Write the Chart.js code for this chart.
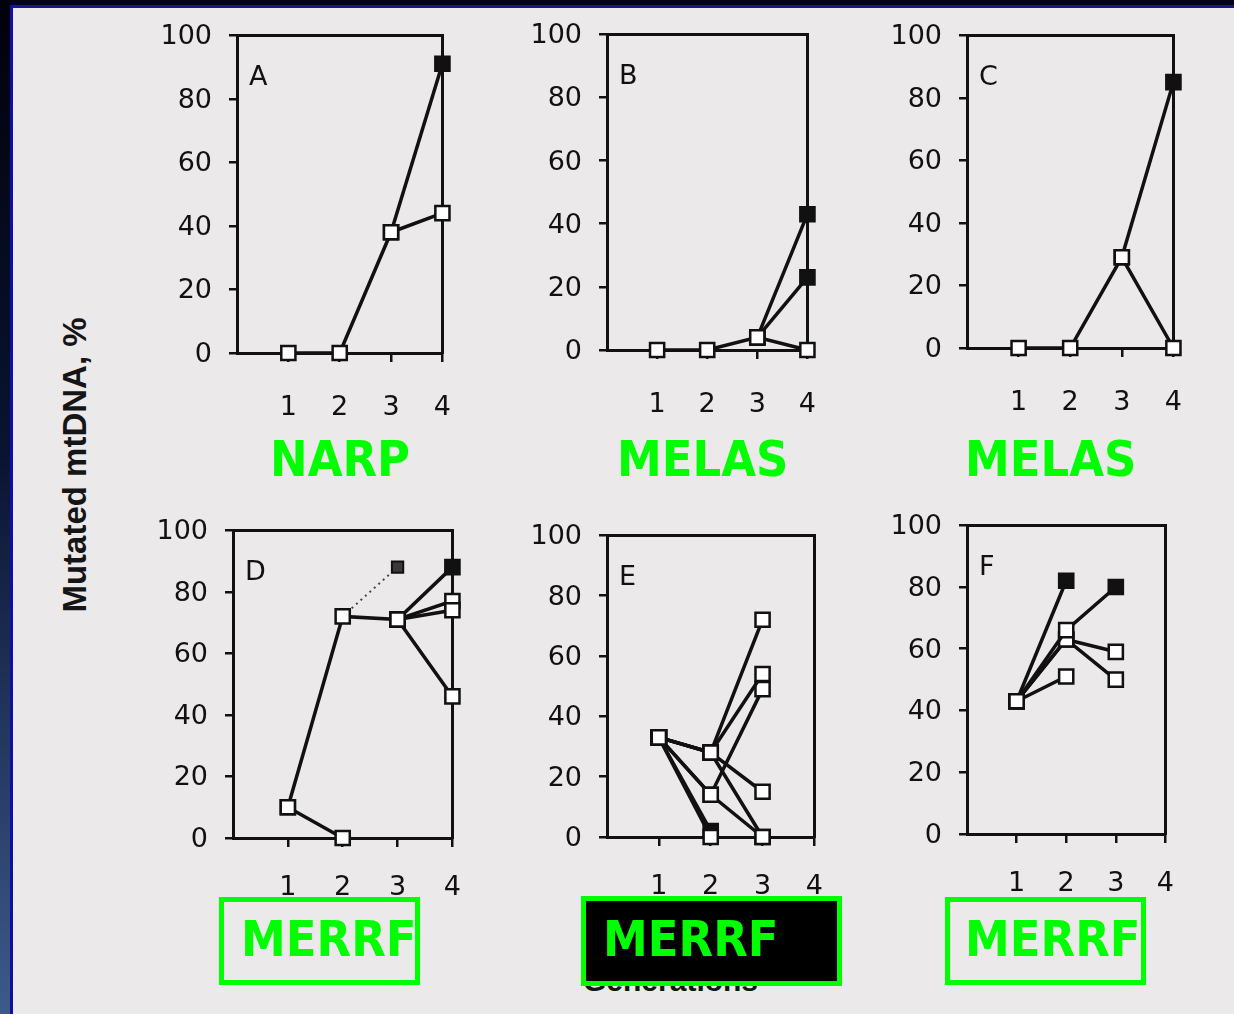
<!DOCTYPE html>
<html>
<head>
<meta charset="utf-8">
<script src="https://cdn.jsdelivr.net/npm/chart.js@4.4.1/dist/chart.umd.min.js"></script>
<style>
  html, body { margin: 0; padding: 0; }
  body { width: 1234px; height: 1014px; position: relative; overflow: hidden; background: #ece9ea; }
  .edge-top { position: absolute; left: 0; top: 0; width: 1234px; height: 5px; background: #02021c; }
  .edge-top-line { position: absolute; left: 0; top: 5px; width: 1234px; height: 3px; background: #1414a0; }
  .edge-left { position: absolute; left: 0; top: 0; width: 10px; height: 1014px; background: linear-gradient(#01010a, #0a1430 45%, #3d5a8c); }
  .edge-left-line { position: absolute; left: 10px; top: 5px; width: 3px; height: 1009px; background: #1010a0; }
  canvas { position: absolute; }
  .tag { position: absolute; font-family: "DejaVu Sans Condensed", "DejaVu Sans", sans-serif; font-stretch: condensed;
         font-weight: bold; font-size: 50px; line-height: 50px; color: #00ff00; white-space: nowrap; z-index: 3; }
  .box { position: absolute; border: 5px solid #00ff00; box-sizing: border-box; z-index: 2; }
  .ylabel { position: absolute; left: 75px; top: 465px; transform: translate(-50%, -50%) rotate(-90deg);
            font-family: "Liberation Sans", Arial, sans-serif; font-weight: bold; font-size: 33px; color: #151515; white-space: nowrap; }
  .gen { position: absolute; left: 583px; top: 966px; font-family: "Liberation Sans", Arial, sans-serif; font-weight: bold;
         font-size: 30px; line-height: 30px; color: #151515; z-index: 1; }
</style>
</head>
<body>
<div class="edge-top"></div>
<div class="edge-top-line"></div>
<div class="edge-left"></div>
<div class="edge-left-line"></div>
<div class="ylabel">Mutated mtDNA, %</div>
<div class="gen">Generations</div>

<script>
// generations on the x axis
const gens = [1, 2, 3, 4];
const yTicks = [0, 20, 40, 60, 80, 100];
const panelLetters = ['A', 'B', 'C', 'D', 'E', 'F'];
const diseaseLabels = ['NARP', 'MELAS', 'MELAS', 'MERRF', 'MERRF', 'MERRF'];

// each line = one family path, value per generation (null = not measured)
// solid = last point is a filled square
const aLines = [[0, 0, 38, 44], [null, null, 38, 91]];
const aSolid = [false, true];

const bLines = [[0, 0, 4, 0], [null, null, 4, 43], [null, null, 4, 23]];
const bSolid = [false, true, true];

const cLines = [[0, 0, 29, 0], [null, null, 29, 85]];
const cSolid = [false, true];

const dLines = [[10, 0, null, null], [10, 72, 71, 46], [null, null, 71, 74], [null, null, 71, 77], [null, null, 71, 88]];
const dSolid = [false, false, false, false, true];
const dDotted = [null, 72, 88, null];

const eLines = [[33, 28, 72], [33, 28, 54], [33, 14, 49], [33, 28, 15], [33, 28, 0], [33, 14, 0], [33, 0, null], [33, 2, null]];
const eSolid = [false, false, false, false, false, false, false, true];

const fLines = [[43, 82, null], [43, 66, 80], [43, 63, 59], [43, 63, 50], [43, 51, null]];
const fSolid = [true, true, false, false, false];

const XH = 62, YW = 95;
const INK = '#111';

function toPoints(vals) {
  const pts = [];
  vals.forEach((v, j) => { if (v !== null) pts.push({ x: gens[j], y: v }); });
  return pts;
}

const letterPlugin = {
  id: 'panelLetter',
  afterDraw(chart, args, opts) {
    const { ctx, chartArea } = chart;
    ctx.save();
    ctx.font = '27px "DejaVu Sans"';
    ctx.fillStyle = INK;
    ctx.textBaseline = 'alphabetic';
    ctx.fillText(opts.text, chartArea.left + 12, chartArea.top + 50);
    ctx.restore();
  }
};

function buildConfig(i, lines, solid, xPad, dotted) {
  const datasets = lines.map((vals, k) => {
    const pts = toPoints(vals);
    return {
      data: pts,
      xAxisID: 'x', yAxisID: 'y',
      borderColor: INK, borderWidth: 3.5,
      pointStyle: 'rect', pointRadius: 10, pointBorderWidth: 2.5, pointBorderColor: INK,
      pointBackgroundColor: pts.map((p, m) => (solid[k] && m === pts.length - 1) ? INK : '#fff'),
      clip: false
    };
  });
  if (dotted) {
    datasets.push({
      data: toPoints(dotted),
      xAxisID: 'x', yAxisID: 'y',
      borderColor: '#444', borderWidth: 2, borderDash: [2, 4],
      pointStyle: 'rect', pointRadius: [0, 8], pointBorderWidth: 2, pointBorderColor: INK,
      pointBackgroundColor: '#3a3a3a', clip: false
    });
  }
  const tickFont = { family: 'DejaVu Sans', size: 27 };
  return {
    type: 'line',
    data: { datasets: datasets },
    options: {
      responsive: false,
      animation: false,
      devicePixelRatio: 1,
      layout: { padding: { top: 14, right: 14, left: 0, bottom: 0 } },
      plugins: { legend: { display: false }, tooltip: { enabled: false }, panelLetter: { text: panelLetters[i] } },
      scales: {
        x: {
          type: 'linear', min: 0, max: 4,
          afterFit: s => { s.height = XH; },
          ticks: { stepSize: 1, font: tickFont, color: INK, padding: xPad, maxRotation: 0, autoSkip: false,
                   callback: v => v === 0 ? '' : v },
          grid: { drawOnChartArea: false, tickLength: 9, lineWidth: 2.5,
                  color: c => (c.tick && c.tick.value === 0) ? 'rgba(0,0,0,0)' : INK },
          border: { color: INK, width: 3 }
        },
        y: {
          min: 0, max: 100,
          afterFit: s => { s.width = YW; },
          afterBuildTicks: s => { s.ticks = yTicks.map(v => ({ value: v })); },
          ticks: { font: tickFont, color: INK, padding: 17, labelOffset: 2 },
          grid: { drawOnChartArea: false, tickLength: 8, lineWidth: 2.5, color: INK },
          border: { color: INK, width: 3 }
        },
        xTop: {
          type: 'linear', position: 'top', min: 0, max: 4,
          afterFit: s => { s.height = 0; },
          ticks: { display: false }, grid: { display: false },
          border: { color: INK, width: 3 }
        },
        yRight: {
          type: 'linear', position: 'right', min: 0, max: 100,
          afterFit: s => { s.width = 0; },
          ticks: { display: false }, grid: { display: false },
          border: { color: INK, width: 3 }
        }
      }
    },
    plugins: [letterPlugin]
  };
}

// draw once to learn the margins around the plot area, then size the canvas so
// the plot area lands on the given rectangle
function makePanel(i, rect, lines, solid, xPad, dotted) {
  const [L, T, R, B] = rect;
  const pw = YW + (R - L) + 30, ph = (B - T) + 100;
  const probe = document.createElement('canvas');
  probe.width = pw; probe.height = ph;
  document.body.appendChild(probe);
  const pc = new Chart(probe, buildConfig(i, lines, solid, xPad, dotted));
  const ca = pc.chartArea;
  const mL = ca.left, mT = ca.top, mR = pw - ca.right, mB = ph - ca.bottom;
  pc.destroy();
  probe.remove();

  const canvas = document.createElement('canvas');
  canvas.width = Math.round(mL + (R - L) + mR);
  canvas.height = Math.round(mT + (B - T) + mB);
  canvas.style.left = Math.round(L - mL) + 'px';
  canvas.style.top = Math.round(T - mT) + 'px';
  document.body.appendChild(canvas);
  new Chart(canvas, buildConfig(i, lines, solid, xPad, dotted));
}

makePanel(0, [237, 35, 442, 353], aLines, aSolid, 30);
makePanel(1, [607, 34, 807, 350], bLines, bSolid, 30);
makePanel(2, [967, 35, 1173, 348], cLines, cSolid, 30);
makePanel(3, [233, 530, 452, 838], dLines, dSolid, 25, dDotted);
makePanel(4, [607, 535, 814, 837], eLines, eSolid, 25);
makePanel(5, [967, 525, 1165, 834], fLines, fSolid, 25);

// disease labels under each panel
const tagPos = [[270, 434], [617, 434], [965, 434], [241, 914], [603, 914], [965, 914]];
const boxPos = [[219, 897, 201, 88, false], [581, 896, 261, 90, true], [945, 897, 201, 88, false]];
boxPos.forEach(b => {
  const d = document.createElement('div');
  d.className = 'box';
  d.style.left = b[0] + 'px'; d.style.top = b[1] + 'px';
  d.style.width = b[2] + 'px'; d.style.height = b[3] + 'px';
  if (b[4]) d.style.background = '#000';
  document.body.appendChild(d);
});
diseaseLabels.forEach((t, i) => {
  const d = document.createElement('div');
  d.className = 'tag';
  d.textContent = t;
  d.style.left = tagPos[i][0] + 'px';
  d.style.top = tagPos[i][1] + 'px';
  document.body.appendChild(d);
});
</script>
</body>
</html>
